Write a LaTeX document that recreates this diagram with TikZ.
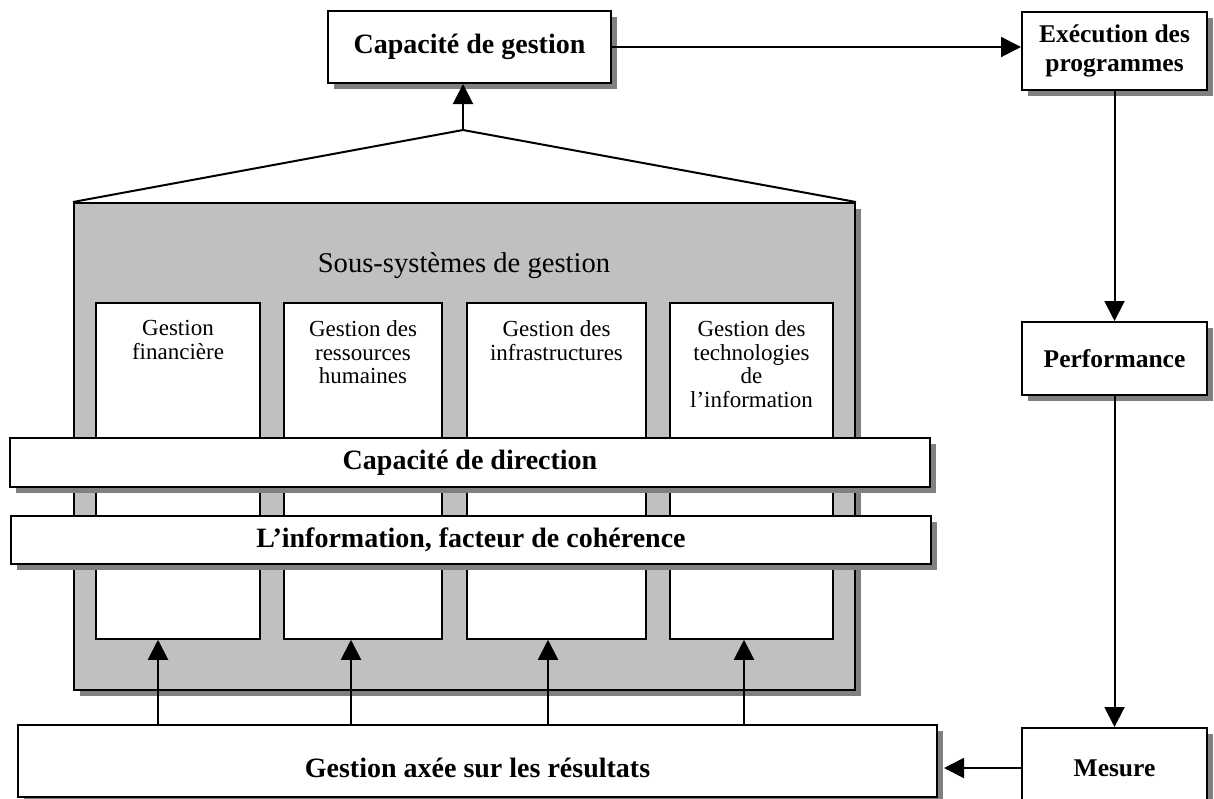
\documentclass[tikz,border=0pt]{standalone}
\usepackage{fontspec}
\setmainfont{Liberation Serif}
\usetikzlibrary{arrows.meta,positioning,shadows}
\definecolor{subgray}{HTML}{C0C0C0}
\definecolor{shadegray}{HTML}{808080}
\newcommand{\titlefont}{\fontsize{14}{16}\selectfont\bfseries}
\newcommand{\sidefont}{\fontsize{12.75}{14.5}\selectfont\bfseries}
\newcommand{\headfont}{\fontsize{14.3}{16}\selectfont}
\newcommand{\subfont}{\fontsize{11.5}{11.8}\selectfont}

\begin{document}
\begin{tikzpicture}[x=0.5pt,y=-0.5pt,
		place/.style={rectangle,draw,line width=1pt,fill=white,inner sep=0pt},
		shaded/.style={drop shadow={shadow xshift=3pt,shadow yshift=-3pt,fill=shadegray,opacity=1}},
		subbox/.style={rectangle,draw,line width=0.75pt,fill=white,inner sep=0pt,minimum height=168pt,minimum width=#1},
		subtext/.style={font=\subfont,align=center,inner sep=0pt},
		marrow/.style={-{Triangle[length=10pt,width=10pt]},line width=1pt}]
		\useasboundingbox (0,0) rectangle (1214,798);

		% top and right column
		\node [place,shaded,minimum width=141.5pt,minimum height=36pt,font=\titlefont] (gestion) at (469.5,47) {Capacité de gestion};
		\node [place,shaded,minimum width=92.5pt,minimum height=39pt,font=\sidefont,align=center] (execution) at (1114.5,51) {Exécution des\\programmes};
		\node [place,shaded,minimum width=92.5pt,minimum height=36.5pt,font=\sidefont] (performance) at (1114.5,358.5) {Performance};
		\node [place,shaded,minimum width=92.5pt,minimum height=40pt,font=\sidefont] (mesure) at (1114.5,768) {Mesure};

		% management sub-systems
		\node [rectangle,draw,line width=1pt,fill=subgray,shaded,inner sep=0pt,minimum width=390.5pt,minimum height=243.5pt] (soussys) at (464.5,446.5) {};
		\coordinate (apex) at (463,130);
		\draw [line width=1pt] (soussys.north west) -- (apex) -- (soussys.north east);
		\node [font=\headfont,anchor=base] (soussys-title) at (464,272) {Sous-systèmes de gestion};

		\node [subbox=82pt] (sub1) at (178,471) {};
		\node [subbox=79pt] (sub2) at (363,471) {};
		\node [subbox=89.5pt] (sub3) at (556.5,471) {};
		\node [subbox=81.5pt] (sub4) at (751.5,471) {};
		\node [subtext,below=9pt of sub1.north] (sub1-text) {Gestion\\financière};
		\node [subtext,below=9pt of sub2.north] (sub2-text) {Gestion des\\ressources\\humaines};
		\node [subtext,below=9pt of sub3.north] (sub3-text) {Gestion des\\infrastructures};
		\node [subtext,below=9pt of sub4.north] (sub4-text) {Gestion des\\technologies\\de\\l’information};

		\node [place,shaded,minimum width=460pt,minimum height=24.5pt,font=\titlefont] (direction) at (470,462.5) {Capacité de direction};
		\node [place,shaded,minimum width=460pt,minimum height=24pt,font=\titlefont] (info) at (471,540) {L’information, facteur de cohérence};

		% text sits a little low in this box
		\node [place,shaded,minimum width=459.5pt,minimum height=36pt,font=\titlefont,text height=16pt,text depth=0pt] (resultats) at (477.5,761) {Gestion axée sur les résultats};

		% arrows
		\draw [marrow] (apex) -- (apex |- gestion.south);
		\draw [marrow] (gestion.east) -- (gestion.east -| execution.west);
		\draw [marrow] (execution) -- (performance);
		\draw [marrow] (performance) -- (mesure);
		\draw [marrow] (mesure.west) -- ([xshift=3pt]mesure.west -| resultats.east);
		\foreach \s/\d in {sub1/-10pt,sub2/-6pt,sub3/-4.25pt,sub4/-3.75pt} {
			\coordinate (\s-in) at ([xshift=\d]\s.south);
			\draw [marrow] (resultats.north -| \s-in) -- (\s-in);
		}
	\end{tikzpicture}
\end{document}
